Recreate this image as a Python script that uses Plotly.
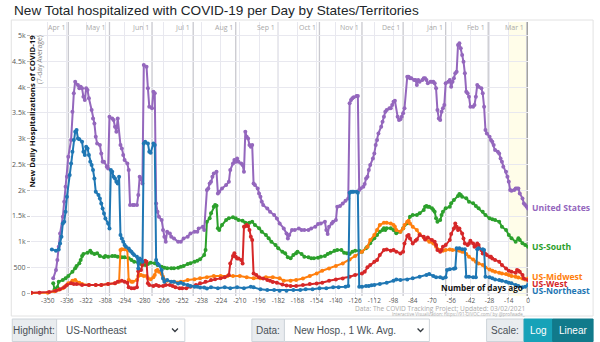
import plotly.graph_objects as go

# ---------------- data (days ago, 7-day avg new hospitalizations) ----------------
us_days = [-346,-344,-343,-342,-341,-339,-338,-337,-336,-335,-333,-332,-331,-330,-328,-327,-326,-325,-324,-323,-322,-321,-320,-318,-317,-316,-315,-314,-312,-311,-310,-309,-307,-306,-305,-303,-302,-301,-300,-299,-297,-296,-295,-294,-292,-291,-290,-288,-287,-285,-284,-283,-282,-281,-280,-278,-277,-276,-274,-273,-272,-271,-270,-269,-267,-266,-265,-264,-263,-261,-260,-258,-255,-253,-251,-248,-246,-243,-241,-240,-237,-236,-234,-233,-232,-231,-230,-229,-227,-226,-225,-223,-220,-218,-217,-215,-214,-213,-212,-211,-209,-208,-207,-206,-205,-204,-203,-202,-201,-200,-199,-197,-196,-195,-194,-193,-190,-188,-185,-183,-181,-178,-176,-175,-174,-172,-170,-167,-165,-163,-160,-158,-155,-153,-151,-148,-147,-146,-145,-143,-142,-140,-139,-137,-135,-133,-131,-130,-129,-128,-127,-125,-124,-123,-122,-120,-119,-118,-117,-116,-115,-113,-112,-111,-110,-109,-107,-106,-105,-104,-103,-101,-100,-99,-98,-97,-95,-94,-93,-92,-91,-90,-88,-87,-86,-85,-83,-82,-81,-80,-79,-77,-76,-75,-74,-73,-71,-70,-69,-68,-67,-66,-65,-64,-63,-62,-61,-60,-58,-57,-56,-55,-54,-53,-52,-51,-50,-49,-48,-47,-46,-45,-44,-43,-42,-40,-39,-38,-37,-36,-34,-33,-32,-31,-30,-28,-27,-26,-25,-24,-22,-21,-20,-19,-18,-16,-15,-14,-13,-12,-10,-9,-8,-7,-6,-4,-3,-2,-1,0]
us_vals = [290,451,645,904,1162,1486,1777,2068,2262,2650,2974,3524,3880,4106,4041,3977,4009,3977,3815,3750,3977,3944,3783,3556,3394,3297,3039,2909,2877,2715,2553,2553,2456,2424,3427,3394,3362,3233,3136,3394,2877,2812,2683,2586,2521,2392,1712,1712,1712,1712,1906,2262,2230,2133,4430,4397,3977,3621,3589,3912,3880,1745,1583,1486,1421,1227,1098,1000,1195,1162,1098,1065,1000,1000,1065,1098,1162,1195,1195,1259,1292,1227,2003,2036,2133,2165,2262,2327,2359,1939,1971,2036,2100,2165,2392,2521,2586,2553,2618,2553,2521,2489,2359,3136,3039,3006,2877,2845,2877,2133,2100,2036,1939,1874,1777,1712,1648,1583,1518,1453,1356,1259,1162,1065,1130,1227,1227,1259,1227,1227,1227,1259,1292,1343,1356,1389,1227,1149,1292,1356,1389,1421,1680,1693,1745,1796,1842,3686,3750,3783,3802,3828,3828,2003,2036,2068,2120,2230,2262,2392,2489,2618,2715,2877,2974,3103,3233,3330,3427,3524,3556,3589,3589,3653,3718,3737,3427,3362,3375,3427,3492,3589,4203,4203,4171,4171,4139,4139,4041,4139,4106,4139,4171,4171,4139,4074,4106,4106,4106,4074,3977,3556,3394,3362,3524,3589,3653,4074,4106,4139,4009,4106,4171,4268,4300,4818,4850,4753,4624,4494,4268,3912,3880,3815,3621,3621,3653,3815,4041,4009,3977,3880,3621,3168,3103,3039,2974,2942,2877,2780,2748,2715,2618,2553,2456,2359,2262,2165,2003,1991,2003,2036,2036,2036,1939,1842,1745,1712,1680,1648]

south_days = [-346,-345,-343,-342,-339,-337,-335,-332,-330,-329,-327,-326,-325,-324,-321,-319,-318,-316,-314,-312,-309,-308,-306,-303,-301,-299,-296,-294,-291,-289,-287,-284,-282,-279,-277,-275,-272,-270,-267,-265,-263,-260,-258,-255,-253,-251,-248,-246,-243,-241,-239,-236,-235,-234,-232,-231,-229,-228,-227,-226,-225,-223,-220,-218,-215,-213,-211,-208,-206,-203,-201,-199,-196,-194,-191,-189,-187,-184,-182,-179,-177,-175,-173,-171,-169,-168,-165,-163,-160,-158,-156,-153,-151,-148,-146,-144,-141,-139,-136,-134,-132,-130,-128,-126,-123,-121,-118,-117,-115,-112,-110,-108,-106,-105,-104,-103,-100,-98,-96,-93,-91,-88,-86,-84,-81,-79,-76,-75,-74,-73,-72,-70,-69,-68,-67,-66,-64,-63,-62,-60,-57,-56,-54,-51,-50,-49,-48,-45,-43,-40,-38,-36,-33,-31,-28,-26,-24,-21,-19,-16,-14,-12,-9,-7,-6,-4,-2,0]
south_vals = [193,77,116,226,258,290,335,420,484,530,581,646,724,762,788,827,788,762,775,724,698,724,711,724,724,711,698,698,678,646,614,594,568,549,568,594,581,549,517,497,484,484,484,497,517,530,568,581,614,633,659,743,840,1390,1455,1552,1681,1713,1700,1261,1228,1325,1422,1455,1474,1455,1422,1410,1371,1371,1390,1325,1261,1196,1131,1067,1002,937,873,808,776,698,679,743,776,808,763,711,698,679,679,692,711,724,763,789,827,840,840,789,776,763,808,827,827,808,873,905,970,1067,1131,1196,1228,1261,1228,1261,1261,1228,1164,1196,1261,1358,1487,1520,1520,1552,1617,1681,1694,1681,1681,1649,1617,1584,1455,1390,1423,1520,1584,1649,1681,1746,1810,1888,1927,1908,1875,1843,1778,1746,1694,1649,1584,1520,1455,1436,1423,1390,1293,1228,1131,1067,1002,1067,1035,970,937,905]

midwest_days = [-362,-350,-345,-342,-339,-337,-335,-332,-330,-327,-325,-320,-315,-311,-306,-301,-298,-297,-296,-294,-292,-291,-289,-288,-285,-284,-283,-282,-280,-278,-277,-275,-273,-272,-271,-270,-269,-267,-266,-265,-263,-258,-253,-248,-243,-239,-234,-229,-224,-219,-215,-210,-205,-200,-195,-191,-186,-181,-178,-173,-169,-164,-159,-154,-150,-145,-140,-135,-130,-126,-121,-117,-115,-112,-110,-108,-105,-103,-100,-98,-97,-96,-93,-91,-90,-88,-87,-86,-84,-81,-79,-76,-74,-72,-69,-67,-64,-62,-60,-57,-55,-52,-50,-48,-45,-43,-40,-38,-36,-33,-31,-28,-26,-24,-21,-19,-16,-14,-12,-9,-7,-4,-2,0]
midwest_vals = [5,10,40,70,96,142,193,245,258,206,180,161,161,161,180,193,226,840,853,853,840,258,226,226,258,335,355,355,335,335,290,271,310,355,439,452,420,374,323,258,245,226,226,258,271,290,310,335,335,335,335,335,310,290,290,310,310,290,244,244,257,289,334,386,438,483,528,580,658,722,806,904,1033,1130,1227,1324,1370,1370,1356,1324,1292,1227,1195,1259,1324,1389,1408,1356,1292,1227,1149,1085,1046,1000,968,904,839,826,839,852,839,839,826,807,761,709,658,613,580,548,503,464,438,418,399,386,373,354,334,321,308,289,270,289]

west_days = [-362,-356,-349,-344,-341,-338,-336,-333,-331,-329,-325,-320,-315,-311,-306,-301,-299,-296,-294,-292,-291,-289,-287,-285,-284,-282,-281,-279,-278,-277,-276,-273,-271,-269,-266,-264,-261,-259,-257,-254,-252,-249,-246,-242,-239,-235,-231,-228,-224,-221,-218,-217,-215,-214,-213,-212,-211,-209,-208,-207,-206,-205,-204,-203,-202,-201,-200,-198,-196,-193,-190,-188,-186,-183,-179,-176,-173,-169,-164,-159,-154,-150,-145,-140,-135,-130,-126,-121,-119,-117,-115,-112,-110,-108,-105,-103,-100,-98,-96,-93,-91,-90,-88,-87,-86,-84,-82,-81,-79,-76,-75,-73,-70,-68,-67,-66,-64,-63,-62,-60,-57,-56,-54,-53,-52,-51,-50,-48,-47,-46,-44,-43,-42,-40,-39,-38,-37,-36,-34,-33,-32,-31,-30,-28,-27,-26,-24,-21,-19,-16,-14,-12,-9,-8,-7,-6,-4,-3,0]
west_vals = [10,12,25,51,77,116,161,193,180,180,161,161,161,161,180,193,226,245,226,206,116,96,96,116,430,452,549,633,614,193,161,142,161,142,142,161,161,142,116,96,96,96,129,161,193,226,258,271,290,310,355,580,722,775,709,677,677,645,580,1292,1300,1324,1306,1227,1098,1034,386,354,310,289,260,244,220,205,170,150,140,140,160,179,192,205,244,270,289,321,354,386,420,504,548,613,645,742,839,852,826,839,807,774,807,968,1111,1130,1065,968,1020,1046,1130,1098,1046,1085,1033,1000,936,839,807,839,904,936,1033,1149,1259,1356,1292,1227,1259,1162,1065,968,936,968,1020,968,904,917,968,936,839,774,788,761,742,709,709,677,645,613,548,483,438,418,399,451,438,418,354,289,257]

ne_days = [-347,-344,-342,-341,-340,-339,-338,-337,-336,-334,-333,-332,-331,-330,-329,-328,-327,-325,-324,-323,-322,-321,-320,-319,-318,-317,-316,-315,-313,-312,-311,-310,-309,-308,-306,-305,-304,-303,-302,-301,-300,-299,-298,-297,-296,-295,-294,-293,-291,-290,-289,-288,-287,-285,-284,-283,-282,-281,-280,-279,-277,-276,-275,-273,-272,-271,-270,-269,-267,-266,-265,-263,-260,-258,-255,-253,-251,-248,-246,-243,-241,-239,-236,-234,-231,-226,-221,-217,-212,-207,-202,-200,-195,-190,-185,-181,-176,-171,-166,-162,-157,-152,-147,-142,-138,-133,-131,-130,-129,-128,-127,-125,-124,-123,-121,-118,-116,-114,-112,-108,-103,-98,-96,-93,-88,-84,-79,-74,-72,-69,-67,-64,-62,-60,-59,-57,-54,-53,-52,-50,-48,-46,-45,-43,-40,-38,-37,-36,-33,-32,-31,-28,-26,-24,-21,-19,-16,-14,-12,-9,-7,-4,-2,0]
ne_vals = [852,826,852,968,1098,1356,1389,1583,1874,2295,2521,2747,2974,3136,3168,3006,2987,2942,2747,2683,2845,2812,2683,2553,2489,2392,2230,1971,1906,1842,1745,1648,1550,1453,1356,1259,2392,2359,2262,2230,2165,2133,2262,1130,1065,1000,936,904,871,826,807,774,742,709,483,677,645,613,2909,2942,2909,2747,2728,2909,2877,645,580,548,451,289,224,257,224,224,192,205,179,160,140,127,127,114,114,95,116,97,116,97,116,97,129,116,77,64,64,51,51,64,64,77,77,97,97,116,116,129,142,1952,1971,1971,1971,1971,1952,129,129,142,142,155,162,181,207,245,270,258,270,290,323,355,374,336,310,310,290,310,452,465,478,485,873,873,853,853,323,323,310,310,853,873,853,840,323,310,290,270,258,245,226,207,194,162,142,116,129,162]

x_ticks = list(range(-350, 1, 14))
y_ticks = [0, 500, 1000, 1500, 2000, 2500, 3000, 3500, 4000, 4500, 5000]
y_tick_text = ["0", "500", "1k", "1.5k", "2k", "2.5k", "3k", "3.5k", "4k", "4.5k", "5k"]
month_days = [-335, -305, -274, -244, -213, -182, -152, -121, -91, -60, -29, -1]
month_names = ["Apr 1", "May 1", "Jun 1", "Jul 1", "Aug 1", "Sep 1", "Oct 1", "Nov 1", "Dec 1", "Jan 1", "Feb 1", "Mar 1"]

# ---------------- geometry helpers ----------------
W, H = 600, 342
L, R, T, B = 24, 528, 22, 296
def fx(px):
    return (px - L) / (R - L)
def fy(py):
    return (B - py) / (B - T)

FONT = "Open Sans"
PURPLE, GREEN, ORANGE, RED, BLUE = "#9467bd", "#2ca02c", "#ff7f0e", "#d62728", "#1f77b4"

fig = go.Figure()
series = [
    ("US-South", south_days, south_vals, GREEN),
    ("US-Midwest", midwest_days, midwest_vals, ORANGE),
    ("US-West", west_days, west_vals, RED),
    ("United States", us_days, us_vals, PURPLE),
    ("US-Northeast", ne_days, ne_vals, BLUE),
]
for name, xs, ys, col in series:
    fig.add_trace(go.Scatter(x=xs, y=ys, name=name, mode="lines+markers",
                             line=dict(color=col, width=2),
                             marker=dict(color=col, size=4),
                             showlegend=False, hoverinfo="skip"))

shapes = []
# incomplete-data band
shapes.append(dict(type="rect", xref="x", yref="paper", x0=-14, x1=0, y0=0, y1=1,
                   fillcolor="rgba(255,252,215,0.55)", line=dict(width=0), layer="below"))
# month lines
for d in month_days:
    shapes.append(dict(type="line", xref="x", yref="paper", x0=d, x1=d, y0=0, y1=1,
                       line=dict(color="#c9c9cf", width=1.3), layer="below"))
shapes.append(dict(type="line", xref="x", yref="paper", x0=0, x1=0, y0=0, y1=1,
                   line=dict(color="#8a8a8a", width=1.5), layer="below"))

# container border
shapes.append(dict(type="rect", xref="paper", yref="paper", x0=fx(4), x1=fx(594), y0=fy(316), y1=fy(20),
                   line=dict(color="#e2e2e2", width=1), fillcolor="rgba(0,0,0,0)", layer="below"))

def box(x0, x1, fill, line="#ced4da"):
    shapes.append(dict(type="rect", xref="paper", yref="paper", x0=fx(x0), x1=fx(x1),
                       y0=fy(341.5), y1=fy(319), fillcolor=fill, line=dict(color=line, width=1)))
def chevron(cx):
    path = "M %f,%f L %f,%f L %f,%f" % (fx(cx - 3), fy(328.5), fx(cx), fy(331.5), fx(cx + 3), fy(328.5))
    shapes.append(dict(type="path", xref="paper", yref="paper", path=path,
                       line=dict(color="#343a40", width=1.3)))

box(5, 50, "#e9ecef"); box(50, 180, "#ffffff"); chevron(170)
box(248, 281, "#e9ecef"); box(281, 428, "#ffffff"); chevron(419)
box(486, 524, "#e9ecef"); box(524, 553, "#17a2b8", "#17a2b8"); box(553, 594, "#117a8b", "#117a8b")

ann = []
def text(px, py, s, size, color, xanchor="left", yanchor="middle", bold=False, angle=0, family=FONT):
    ann.append(dict(xref="paper", yref="paper", x=fx(px), y=fy(py), text=("<b>%s</b>" % s) if bold else s,
                    showarrow=False, xanchor=xanchor, yanchor=yanchor, textangle=angle,
                    font=dict(size=size, color=color, family=family)))

# title
text(5, 10, "New Total hospitalized with COVID-19 per Day by States/Territories", 13.6, "#212529",
     family="Liberation Sans")
# month labels
for d, m in zip(month_days, month_names):
    ann.append(dict(xref="x", yref="paper", x=d, y=fy(27.5), text=m, showarrow=False,
                    xanchor="right", yanchor="middle", xshift=-1,
                    font=dict(size=7, color="#a8a8a8", family=FONT)))
# y axis title inside plot
text(24, 33, "New Daily Hospitalizations of COVID-19", 7.8, "#111111", xanchor="center", yanchor="top",
     bold=True, angle=-90)
text(32.5, 33, "(7-day Average)", 6.8, "#888888", xanchor="center", yanchor="top", angle=-90)
# series end labels
text(530, 208, "United States", 8.6, PURPLE, bold=True)
text(530, 246.5, "US-South", 8.6, GREEN, bold=True)
text(530, 277, "US-Midwest", 8.6, ORANGE, bold=True)
text(530, 283.5, "US-West", 8.6, RED, bold=True)
text(530, 290.5, "US-Northeast", 8.6, BLUE, bold=True)
text(525, 287.5, "Number of days ago", 8.2, "#111111", xanchor="right", bold=True)
# sources
text(527, 308.5, "Data: The COVID Tracking Project; Updated: 03/02/2021", 6.6, "#aaaaaa", xanchor="right")
text(527, 314.5, "Interactive Visualization: https://91-DIVOC.com/ by @profwade_", 4.5, "#aaaaaa", xanchor="right")
# controls
text(27.5, 330.5, "Highlight:", 10, "#495057", xanchor="center", family="Liberation Sans")
text(57, 330.5, "US-Northeast", 10, "#495057", family="Liberation Sans")
text(264.5, 330.5, "Data:", 10, "#495057", xanchor="center", family="Liberation Sans")
text(289, 330.5, "New Hosp., 1 Wk. Avg.", 10, "#495057", family="Liberation Sans")
text(505, 330.5, "Scale:", 10, "#495057", xanchor="center", family="Liberation Sans")
text(538.5, 330.5, "Log", 10, "#ffffff", xanchor="center", family="Liberation Sans")
text(573.5, 330.5, "Linear", 10, "#ffffff", xanchor="center", family="Liberation Sans")

fig.update_layout(
    width=W, height=H, autosize=False,
    margin=dict(l=L, r=W - R, t=T, b=H - B, pad=0),
    paper_bgcolor="white", plot_bgcolor="white",
    shapes=shapes, annotations=ann,
    xaxis=dict(range=[-362.2, 0], tickvals=x_ticks, ticktext=[str(v) for v in x_ticks],
               showgrid=True, gridcolor="#e8e8ef", gridwidth=1, zeroline=False, showline=False,
               ticks="outside", ticklen=2, tickcolor="#bbbbbb", ticklabelstandoff=-4,
               tickfont=dict(size=6.5, color="#555555", family=FONT)),
    yaxis=dict(range=[-52, 5264], tickvals=y_ticks, ticktext=y_tick_text,
               showgrid=True, gridcolor="#e8e8ef", gridwidth=1, zeroline=False, showline=False,
               ticks="outside", ticklen=3, tickcolor="#bbbbbb",
               tickfont=dict(size=7, color="#555555", family=FONT)),
)
fig.write_html("out.html")
